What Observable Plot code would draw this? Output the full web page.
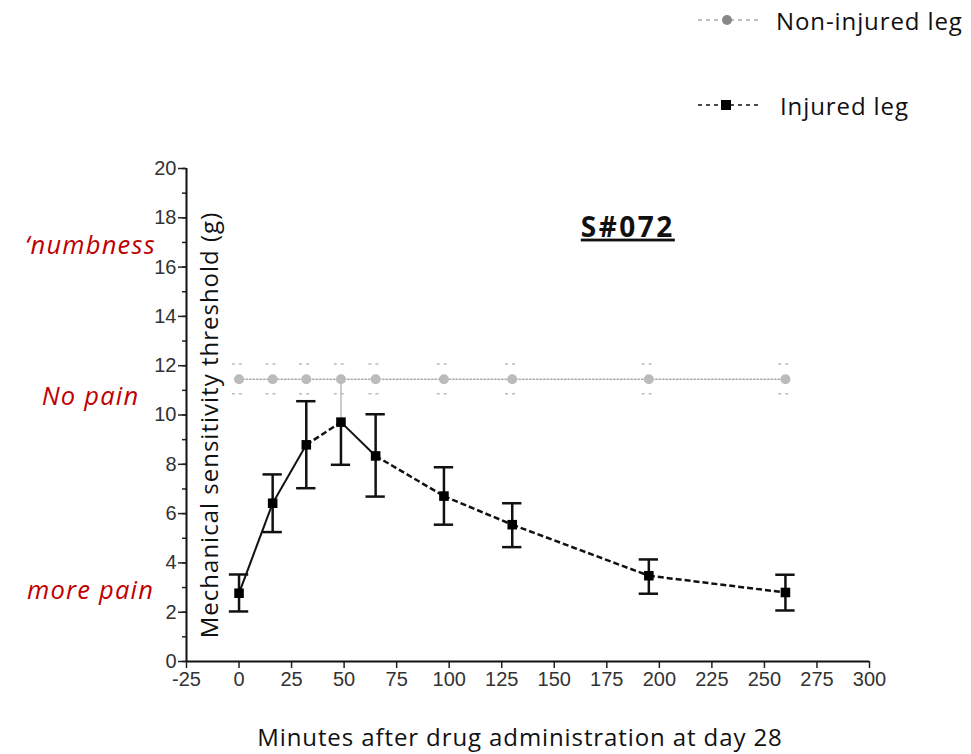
<!DOCTYPE html>
<html>
<head>
<meta charset="utf-8">
<script src="https://cdn.jsdelivr.net/npm/d3@7"></script>
<script src="https://cdn.jsdelivr.net/npm/@observablehq/plot@0.6"></script>
<style>
  html, body { margin: 0; padding: 0; background: #fff; }
  #wrap { position: relative; width: 971px; height: 754px; overflow: hidden; font-family: "Open Sans", Lato, sans-serif; }
  #wrap > svg { position: absolute; left: 0; top: 0; }
  .legend-item { position: absolute; display: flex; align-items: center; font-size: 24px; letter-spacing: 0.9px; color: #111; white-space: nowrap; }
  .xlabel { position: absolute; left: 0; width: 1040px; text-align: center; top: 720px; font-size: 24px; letter-spacing: 0.9px; color: #111; }
  .title-mark text { text-decoration: underline; text-decoration-thickness: 3px; letter-spacing: 2.5px; }
  .ylab-mark text { letter-spacing: 1px; }
  .pain-mark text { letter-spacing: 1.2px; }
</style>
</head>
<body>
<div id="wrap">
  <div class="legend-item" style="left:697px; top:3px;">
    <svg width="66" height="34"><line x1="1" y1="17" x2="64" y2="17" stroke="#aaa" stroke-width="1.5" stroke-dasharray="4,4"/><circle cx="30" cy="17" r="5" fill="#888"/></svg>
    <span style="margin-left:13px">Non-injured leg</span>
  </div>
  <div class="legend-item" style="left:697px; top:88px;">
    <svg width="66" height="34"><line x1="1" y1="17" x2="64" y2="17" stroke="#111" stroke-width="1.5" stroke-dasharray="4,4"/><rect x="24" y="12" width="10" height="10" fill="#000"/></svg>
    <span style="margin-left:17px">Injured leg</span>
  </div>
  <div class="xlabel">Minutes after drug administration at day 28</div>
</div>
<script>
// ---- data ----
const minutes = [0, 16, 32, 48.5, 65, 97.5, 130, 195, 260];
const injuredMean = [2.77, 6.42, 8.79, 9.71, 8.34, 6.71, 5.55, 3.48, 2.8];
const injuredLow  = [2.03, 5.25, 7.03, 7.98, 6.69, 5.55, 4.64, 2.75, 2.07];
const injuredHigh = [3.53, 7.59, 10.56, null, 10.03, 7.88, 6.42, 4.14, 3.52];
const segmentDash = ["solid", "solid", "dashed", "solid", "dashed", "dashed", "dashed", "dashed"];
const nonInjuredMean = [11.45, 11.45, 11.45, 11.45, 11.45, 11.45, 11.45, 11.45, 11.45];
const nonInjuredLow  = [10.86, 10.86, 10.86, 10.86, 10.86, 10.86, 10.86, 10.86, 10.86];
const nonInjuredHigh = [12.07, 12.07, 12.07, 12.07, 12.07, 12.07, 12.07, 12.07, 12.07];
const xTicks = [-25, 0, 25, 50, 75, 100, 125, 150, 175, 200, 225, 250, 275, 300];
const yTicks = [0, 2, 4, 6, 8, 10, 12, 14, 16, 18, 20];
const yMinorTicks = d3.range(0, 21, 1);
const painLabels = [
  {label: "\u2018numbness", y: 16.88},
  {label: "No pain", y: 10.75},
  {label: "more pain", y: 2.88}
];
const chartTitle = "S#072";
const yLabel = "Mechanical sensitivity threshold (g)";

// ---- derived tables ----
const injured = minutes.map((m, i) => ({x: m, y: injuredMean[i], lo: injuredLow[i], hi: injuredHigh[i]}));
const nonInjured = minutes.map((m, i) => ({x: m, y: nonInjuredMean[i], lo: nonInjuredLow[i], hi: nonInjuredHigh[i]}));
const segments = segmentDash.map((s, i) => ({x1: injured[i].x, y1: injured[i].y, x2: injured[i+1].x, y2: injured[i+1].y, dash: s}));
const capHalf = 4.6; // minutes
const greyCapHalf = 3.2;
const tickFont = "'Liberation Sans Narrow', 'Liberation Sans', Arial, sans-serif";
const textFont = "'Open Sans', Lato, sans-serif";

const plot = Plot.plot({
  width: 971,
  height: 754,
  marginLeft: 186,
  marginRight: 102,
  marginTop: 168,
  marginBottom: 93,
  style: {fontFamily: tickFont, background: "transparent"},
  x: {domain: [-25, 300]},
  y: {domain: [0, 20]},
  marks: [
    Plot.axisY({ticks: yMinorTicks, tickFormat: () => "", tickSize: 4, stroke: "#222", strokeWidth: 1.5, label: null}),
    Plot.axisY({ticks: yTicks, tickSize: 8, tickPadding: 2, fontSize: 20, fill: "#333", stroke: "#222", strokeWidth: 1.5, label: null, fontFamily: tickFont}),
    Plot.axisX({ticks: xTicks, tickSize: 7, tickPadding: 3, fontSize: 20, fill: "#333", stroke: "#222", strokeWidth: 1.5, label: null, tickFormat: d => String(d), fontFamily: tickFont}),
    Plot.ruleX([-25], {stroke: "#111", strokeWidth: 2}),
    Plot.ruleY([0], {stroke: "#111", strokeWidth: 2}),
    Plot.text([yLabel], {frameAnchor: "left", textAnchor: "middle", rotate: -90, dx: 24, dy: 10, fontSize: 24, fill: "#111", fontFamily: textFont, className: "ylab-mark"}),
    Plot.text(painLabels, {frameAnchor: "left", textAnchor: "middle", y: "y", text: "label", dx: -96, fontSize: 25.5, fontStyle: "italic", fill: "#c00000", fontFamily: textFont, className: "pain-mark"}),
    Plot.text([chartTitle], {x: 185, y: 17.6, fontSize: 28, fontWeight: "bold", fill: "#111", fontFamily: textFont, className: "title-mark"}),
    // non-injured leg
    Plot.line(nonInjured, {x: "x", y: "y", stroke: "#aaa", strokeWidth: 1.5, strokeDasharray: "1.5,2"}),
    Plot.ruleY(nonInjured, {y: "hi", x1: d => d.x - greyCapHalf, x2: d => d.x + greyCapHalf, stroke: "#bbb", strokeWidth: 1.5, strokeDasharray: "3,4"}),
    Plot.ruleY(nonInjured, {y: "lo", x1: d => d.x - greyCapHalf, x2: d => d.x + greyCapHalf, stroke: "#bbb", strokeWidth: 1.5, strokeDasharray: "3,4"}),
    Plot.dot(nonInjured, {x: "x", y: "y", r: 5, fill: "#bbb", stroke: "none"}),
    Plot.ruleX([injured[3]], {x: "x", y1: "y", y2: () => nonInjuredMean[3], stroke: "#bbb", strokeWidth: 1.5}),
    // injured leg error bars
    Plot.ruleX(injured.filter(d => d.hi != null), {x: "x", y1: "lo", y2: "hi", stroke: "#111", strokeWidth: 2.5}),
    Plot.ruleX(injured.filter(d => d.hi == null), {x: "x", y1: "lo", y2: "y", stroke: "#111", strokeWidth: 2.5}),
    Plot.ruleY(injured.filter(d => d.hi != null), {y: "hi", x1: d => d.x - capHalf, x2: d => d.x + capHalf, stroke: "#111", strokeWidth: 2.5}),
    Plot.ruleY(injured, {y: "lo", x1: d => d.x - capHalf, x2: d => d.x + capHalf, stroke: "#111", strokeWidth: 2.5}),
    // injured leg line segments
    Plot.link(segments.filter(s => s.dash === "solid"), {x1: "x1", y1: "y1", x2: "x2", y2: "y2", stroke: "#111", strokeWidth: 2}),
    Plot.link(segments.filter(s => s.dash === "dashed"), {x1: "x1", y1: "y1", x2: "x2", y2: "y2", stroke: "#111", strokeWidth: 2.5, strokeDasharray: "6,3"}),
    Plot.dot(injured, {x: "x", y: "y", symbol: "square", r: 5.4, fill: "#000", stroke: "none"})
  ]
});
document.getElementById("wrap").prepend(plot);
</script>
</body>
</html>
